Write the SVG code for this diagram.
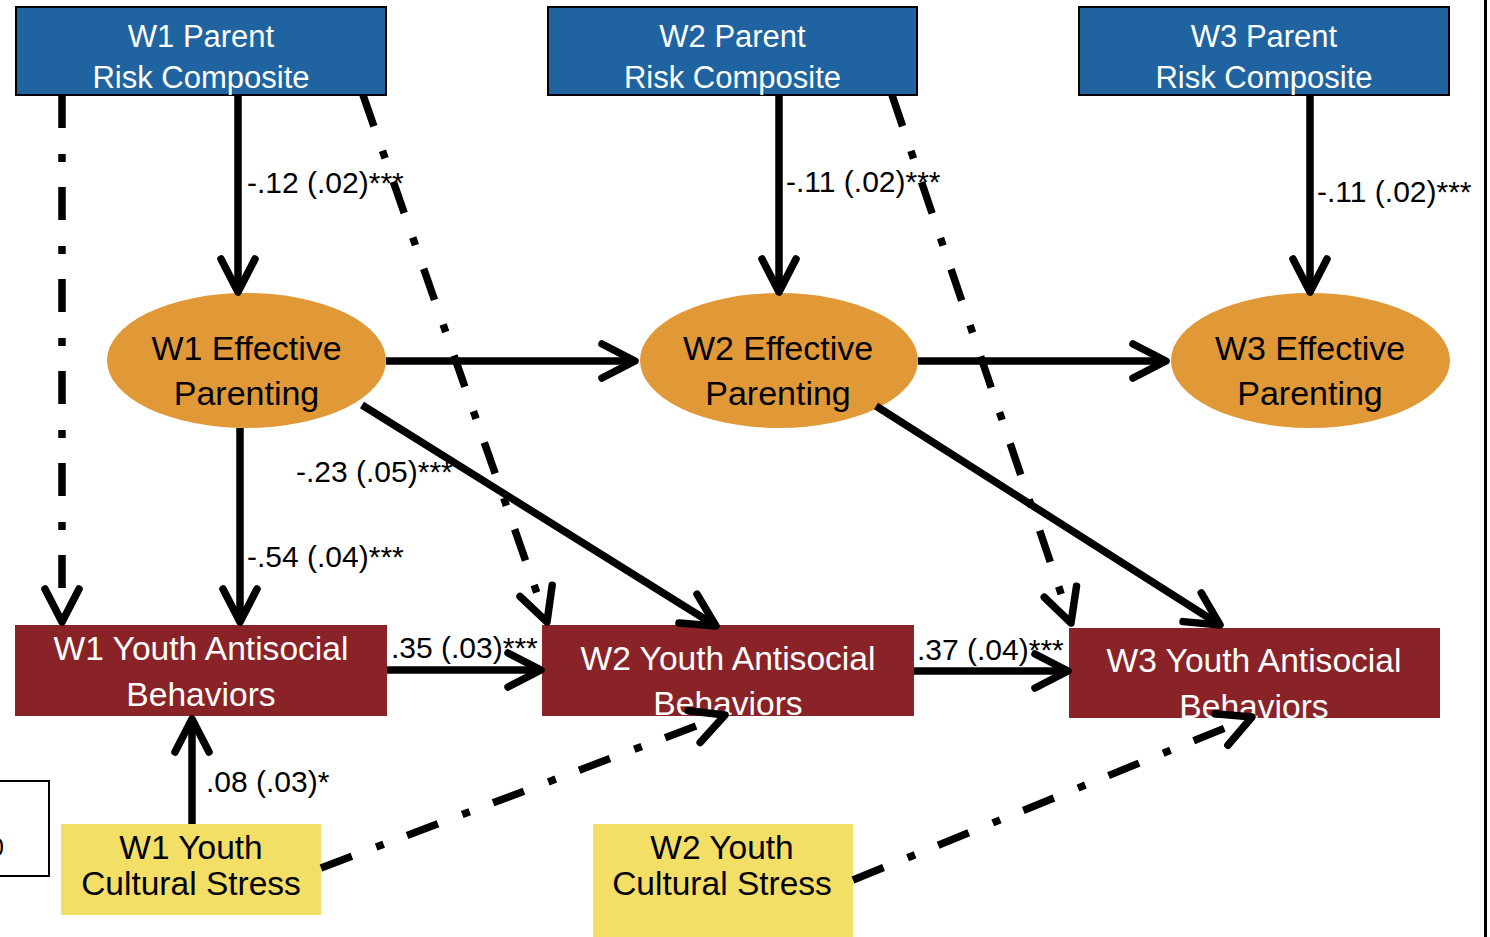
<svg xmlns="http://www.w3.org/2000/svg" width="1490" height="937" viewBox="0 0 1490 937">
<style>
.nt{font-family:"Liberation Sans",Arial,sans-serif;text-anchor:middle}
.w{fill:#fff;font-size:31px}
.b{fill:#000;font-size:34px}
.r{fill:#fff;font-size:33.6px}
.y{fill:#000;font-size:33.5px}
.lbl{font-family:"Liberation Sans",Arial,sans-serif;font-size:30px;fill:#000}
.blue{fill:#1f64a0;stroke:#000;stroke-width:2}
.orange{fill:#e19937}
.red{fill:#8a2327}
.yel{fill:#f4df66}
.c{fill:none;stroke:#000;stroke-width:7.5;marker-end:url(#ah)}
.dd{stroke-dasharray:33 26 8 25}
</style>
<defs>
<marker id="ah" markerUnits="userSpaceOnUse" viewBox="-45 -30 55 60" markerWidth="55" markerHeight="60" refX="0" refY="0" orient="auto">
<path d="M-33,-17 L0,0 L-33,17" fill="none" stroke="#000" stroke-width="7.5" stroke-linecap="round" stroke-linejoin="round" stroke-dasharray="none"/>
</marker>
</defs>
<rect x="0" y="0" width="1490" height="937" fill="#fff"/>
<g id="frame">
<rect x="-20" y="781" width="69" height="95" fill="#fff" stroke="#000" stroke-width="2"/>
<text x="4" y="856" font-family="Liberation Sans, Arial, sans-serif" font-size="26" text-anchor="end">0</text>
<line x1="1485.5" y1="0" x2="1485.5" y2="937" stroke="#000" stroke-width="3"/>
</g>
<g id="w1-parent"><rect class="blue" x="16" y="7" width="370" height="88"/><text class="nt w" x="201" y="47">W1 Parent</text><text class="nt w" x="201" y="88">Risk Composite</text></g>
<g id="w2-parent"><rect class="blue" x="548" y="7" width="369" height="88"/><text class="nt w" x="732.5" y="47">W2 Parent</text><text class="nt w" x="732.5" y="88">Risk Composite</text></g>
<g id="w3-parent"><rect class="blue" x="1079" y="7" width="370" height="88"/><text class="nt w" x="1264" y="47">W3 Parent</text><text class="nt w" x="1264" y="88">Risk Composite</text></g>
<g id="w1-ep"><ellipse class="orange" cx="246.5" cy="360.5" rx="139.5" ry="67.5"/><text class="nt b" x="246.5" y="360">W1 Effective</text><text class="nt b" x="246.5" y="405">Parenting</text></g>
<g id="w2-ep"><ellipse class="orange" cx="779" cy="360.5" rx="139" ry="67.5"/><text class="nt b" x="778" y="360">W2 Effective</text><text class="nt b" x="778" y="405">Parenting</text></g>
<g id="w3-ep"><ellipse class="orange" cx="1310.5" cy="360.5" rx="139.5" ry="67.5"/><text class="nt b" x="1310" y="360">W3 Effective</text><text class="nt b" x="1310" y="405">Parenting</text></g>
<g id="w1-yab"><rect class="red" x="15" y="625" width="372" height="91"/><text class="nt r" x="201" y="660">W1 Youth Antisocial</text><text class="nt r" x="201" y="706">Behaviors</text></g>
<g id="w2-yab"><rect class="red" x="542" y="625" width="372" height="91"/><text class="nt r" x="728" y="670">W2 Youth Antisocial</text><text class="nt r" x="728" y="715">Behaviors</text></g>
<g id="w3-yab"><rect class="red" x="1069" y="628" width="371" height="90"/><text class="nt r" x="1254" y="672">W3 Youth Antisocial</text><text class="nt r" x="1254" y="718">Behaviors</text></g>
<g id="w1-ycs"><rect class="yel" x="61" y="824" width="260" height="91"/><text class="nt y" x="191" y="859">W1 Youth</text><text class="nt y" x="191" y="895">Cultural Stress</text></g>
<g id="w2-ycs"><rect class="yel" x="593" y="824" width="260" height="120"/><text class="nt y" x="722" y="859">W2 Youth</text><text class="nt y" x="722" y="895">Cultural Stress</text></g>
<g id="labels">
<text class="lbl" x="247" y="193" font-size="27">-.12 (.02)***</text>
<text class="lbl" x="786" y="192">-.11 (.02)***</text>
<text class="lbl" x="1317" y="202" font-size="30.6">-.11 (.02)***</text>
<text class="lbl" x="296" y="482">-.23 (.05)***</text>
<text class="lbl" x="247" y="567" font-size="30.4">-.54 (.04)***</text>
<text class="lbl" x="391" y="658">.35 (.03)***</text>
<text class="lbl" x="917" y="660">.37 (.04)***</text>
<text class="lbl" x="206" y="792" font-size="30.5">.08 (.03)*</text>
</g>
<g id="connectors">
<path class="c" d="M238,95 L238,292"/>
<path class="c" d="M779,95 L779,292"/>
<path class="c" d="M1310,95 L1310,292"/>
<path class="c" d="M386,361 L635,361"/>
<path class="c" d="M918,361 L1166,361"/>
<path class="c" d="M240,428 L240,622"/>
<path class="c" d="M362,405 L716,626"/>
<path class="c" d="M876,406 L1220,625"/>
<path class="c" d="M387,670 L541,670"/>
<path class="c" d="M914,671 L1068,671"/>
<path class="c" d="M192,824 L192,719"/>
<path class="c dd" d="M62,95 L62,622"/>
<path class="c dd" d="M363,95 L547,622"/>
<path class="c dd" d="M892,95 L1071,623"/>
<path class="c dd" d="M321,868 L725,715"/>
<path class="c dd" d="M853,880 L1252,717"/>
</g>
</svg>
